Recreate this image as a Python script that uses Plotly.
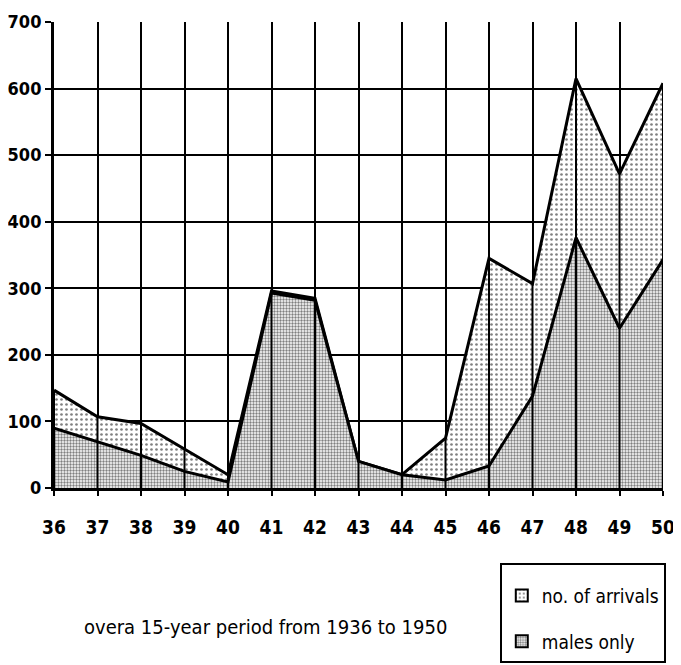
import plotly.graph_objects as go

years = [36, 37, 38, 39, 40, 41, 42, 43, 44, 45, 46, 47, 48, 49, 50]
arrivals = [147, 107, 97, 58, 20, 296, 285, 40, 20, 75, 345, 307, 615, 472, 608]
males = [90, 69, 49, 25, 9, 293, 282, 40, 20, 12, 33, 138, 376, 240, 343]
y_ticks = [0, 100, 200, 300, 400, 500, 600, 700]
caption = "overa 15-year period from 1936 to 1950"

FONT = "DejaVu Sans Condensed, DejaVu Sans, sans-serif"
SPARSE = dict(shape=".", fgcolor="black", bgcolor="white", size=5, solidity=0.22)
DENSE = dict(shape=".", fgcolor="black", bgcolor="white", size=3, solidity=0.48)

fig = go.Figure()
fig.add_trace(go.Scatter(
    x=years, y=arrivals, name="no. of arrivals", mode="lines",
    line=dict(color="black", width=3),
    fill="tozeroy", fillcolor="white", fillpattern=SPARSE,
    hoverinfo="skip", showlegend=False,
))
fig.add_trace(go.Scatter(
    x=years, y=males, name="males only", mode="lines",
    line=dict(color="black", width=3),
    fill="tozeroy", fillcolor="white", fillpattern=DENSE,
    hoverinfo="skip", showlegend=False,
))
# vertical drop lines through the filled areas
fig.add_trace(go.Scatter(
    x=years, y=arrivals, mode="markers", marker=dict(size=1, color="rgba(0,0,0,0)"),
    error_y=dict(type="data", symmetric=False, array=[0] * len(years),
                 arrayminus=arrivals, width=0, thickness=2, color="black"),
    showlegend=False, hoverinfo="skip",
))
# legend entries
for i, (nm, pat) in enumerate([("no. of arrivals", SPARSE), ("males only", DENSE)]):
    fig.add_trace(go.Bar(
        x=[None], y=[None], name=nm, legendgroup=f"g{i}",
        marker=dict(color="white", pattern=pat, line=dict(color="black", width=2)),
        hoverinfo="skip",
    ))

fig.update_xaxes(
    range=[36, 50], tickvals=years, ticktext=[str(v) for v in years],
    showgrid=False,
    minor=dict(tickvals=years[:-1], showgrid=True, gridcolor="black", gridwidth=2, ticks=""),
    showline=True, linecolor="black", linewidth=3,
    ticks="outside", ticklen=5, tickwidth=2, tickcolor="black",
    tickfont=dict(family=FONT, size=19, color="black", weight="bold"),
    ticklabelstandoff=15,
    zeroline=False, automargin=False,
)
fig.update_yaxes(
    range=[0, 700], tickvals=y_ticks, ticktext=[str(v) for v in y_ticks],
    showgrid=True, gridcolor="black", gridwidth=2,
    showline=True, linecolor="black", linewidth=3,
    ticks="outside", ticklen=6, tickwidth=2, tickcolor="black",
    tickfont=dict(family=FONT, size=18, color="black", weight="bold"),
    ticklabelstandoff=0,
    zeroline=False, automargin=False,
)
fig.update_layout(
    width=673, height=657,
    margin=dict(l=46, r=18, t=14, b=177, autoexpand=False),
    paper_bgcolor="white", plot_bgcolor="white",
    showlegend=True,
    legend=dict(
        x=0.732, y=-0.161, xanchor="left", yanchor="top",
        bordercolor="black", borderwidth=2, bgcolor="white",
        font=dict(family=FONT, size=19, color="black"),
        title=dict(text=" ", font=dict(size=9)),
        traceorder="grouped", tracegroupgap=18, itemwidth=30,
    ),
    annotations=[dict(
        text=caption, xref="paper", yref="paper", x=0.3465, y=-0.298,
        showarrow=False, xanchor="center", yanchor="middle",
        font=dict(family=FONT, size=20, color="black"),
    )],
)
fig.write_html("out.html")
